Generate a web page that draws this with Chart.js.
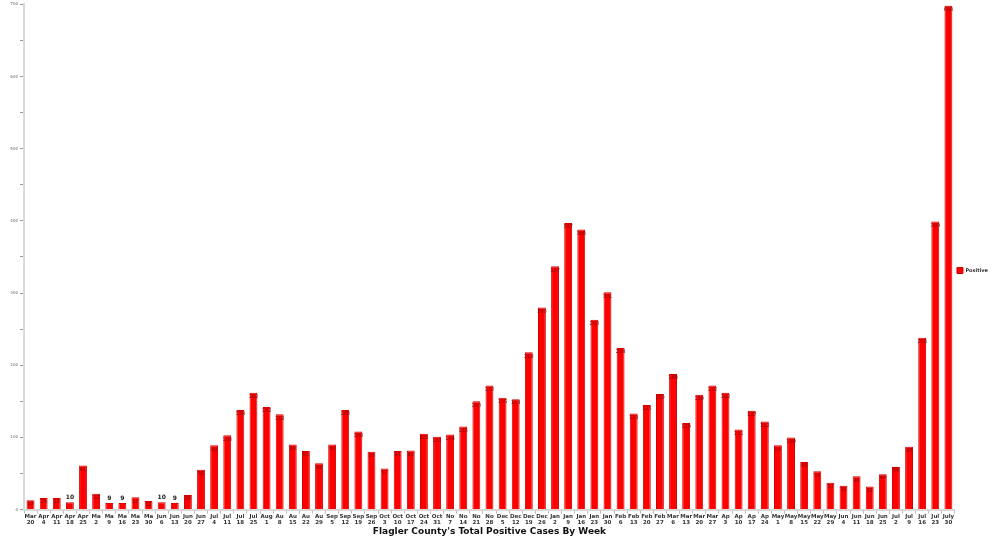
<!DOCTYPE html>
<html>
<head>
<meta charset="utf-8">
<script src="https://cdn.jsdelivr.net/npm/chart.js@4/dist/chart.umd.min.js"></script>
<style>
  html, body { margin: 0; padding: 0; background: #ffffff; }
  #wrap { width: 1000px; height: 542px; position: relative; }
</style>
</head>
<body>
<div id="wrap"><canvas id="c"></canvas></div>
<script>
const weekMonths = ['Mar','Apr','Apr','Apr','Apr','Ma','Ma','Ma','Ma','Ma','Jun','Jun','Jun','Jun','Jul','Jul','Jul','Jul','Aug','Au','Au','Au','Au','Sep','Sep','Sep','Sep','Oct','Oct','Oct','Oct','Oct','No','No','No','No','Dec','Dec','Dec','Dec','Jan','Jan','Jan','Jan','Jan','Feb','Feb','Feb','Feb','Mar','Mar','Mar','Mar','Ap','Ap','Ap','Ap','May','May','May','May','May','Jun','Jun','Jun','Jun','Jul','Jul','Jul','Jul','July'];
const weekDays = ['20','4','11','18','25','2','9','16','23','30','6','13','20','27','4','11','18','25','1','8','15','22','29','5','12','19','26','3','10','17','24','31','7','14','21','28','5','12','19','26','2','9','16','23','30','6','13','20','27','6','13','20','27','3','10','17','24','1','8','15','22','29','4','11','18','25','2','9','16','23','30'];
const positive = [13,16,16,10,61,22,9,9,17,12,10,9,20,55,89,103,138,162,142,132,90,81,64,90,138,108,80,57,81,82,105,101,104,115,150,172,155,153,218,280,337,397,388,263,301,224,133,145,160,188,120,159,172,162,111,137,122,89,100,66,53,37,33,46,32,49,59,87,238,399,698];
const yTicks = [0,100,200,300,400,500,600,700];
const seriesName = 'Positive';
const chartTitle = "Flagler County's Total Positive Cases By Week";

const labels = weekMonths.map((m, i) => [m, weekDays[i]]);

const valueLabels = {
  id: 'valueLabels',
  afterDatasetsDraw(chart) {
    const ctx = chart.ctx;
    const meta = chart.getDatasetMeta(0);
    const data = chart.data.datasets[0].data;
    ctx.save();
    ctx.textAlign = 'center';
    meta.data.forEach((bar, i) => {
      const v = data[i];
      if (v <= 10) {
        ctx.font = 'bold 6px "DejaVu Sans"';
        ctx.fillStyle = '#222222';
        ctx.textBaseline = 'bottom';
        ctx.fillText(String(v), bar.x, bar.y - 2);
      } else {
        ctx.font = '5px "DejaVu Sans"';
        ctx.fillStyle = '#7a0c0c';
        ctx.textBaseline = 'top';
        ctx.fillText(String(v), bar.x, bar.y + 1.5);
      }
    });
    ctx.restore();
  }
};

new Chart(document.getElementById('c'), {
  type: 'bar',
  data: {
    labels: labels,
    datasets: [{
      label: seriesName,
      data: positive,
      backgroundColor: '#ff0000',
      borderColor: '#d40000',
      borderWidth: 1,
      categoryPercentage: 1.0,
      barPercentage: 0.6
    }]
  },
  options: {
    responsive: true,
    maintainAspectRatio: false,
    animation: false,
    layout: { padding: { top: 4, right: 2, bottom: 5, left: 2 } },
    plugins: {
      tooltip: { enabled: false },
      legend: {
        position: 'right',
        labels: {
          boxWidth: 6,
          boxHeight: 6,
          padding: 2,
          color: '#333333',
          font: { family: 'DejaVu Sans', size: 5, weight: 'bold' }
        }
      }
    },
    scales: {
      x: {
        offset: true,
        grid: {
          offset: true,
          drawOnChartArea: false,
          drawTicks: true,
          tickLength: 4,
          color: '#b8b8b8'
        },
        border: { display: true, color: '#d8d8d8', width: 2 },
        ticks: {
          autoSkip: false,
          maxRotation: 0,
          minRotation: 0,
          padding: 0,
          color: '#333333',
          font: { family: 'DejaVu Sans', size: 5.5, weight: 'bold', lineHeight: 1.15 }
        },
        title: {
          display: true,
          text: chartTitle,
          color: '#111111',
          padding: { top: 0, bottom: 0 },
          font: { family: 'DejaVu Sans', size: 9, weight: 'bold' }
        }
      },
      y: {
        min: 0,
        max: 700,
        afterFit(scale) { scale.width = 22; },
        afterBuildTicks(scale) {
          const t = [];
          for (let v = 0; v <= 700; v += 50) t.push({ value: v });
          scale.ticks = t;
        },
        grid: {
          drawOnChartArea: false,
          drawTicks: true,
          tickLength: 4,
          color: '#999999'
        },
        border: { display: true, color: '#dadada', width: 2 },
        ticks: {
          padding: 2,
          color: '#666666',
          font: { family: 'DejaVu Sans', size: 4 },
          callback: (v) => (yTicks.includes(v) ? String(v) : '')
        }
      }
    }
  },
  plugins: [valueLabels]
});
</script>
</body>
</html>
